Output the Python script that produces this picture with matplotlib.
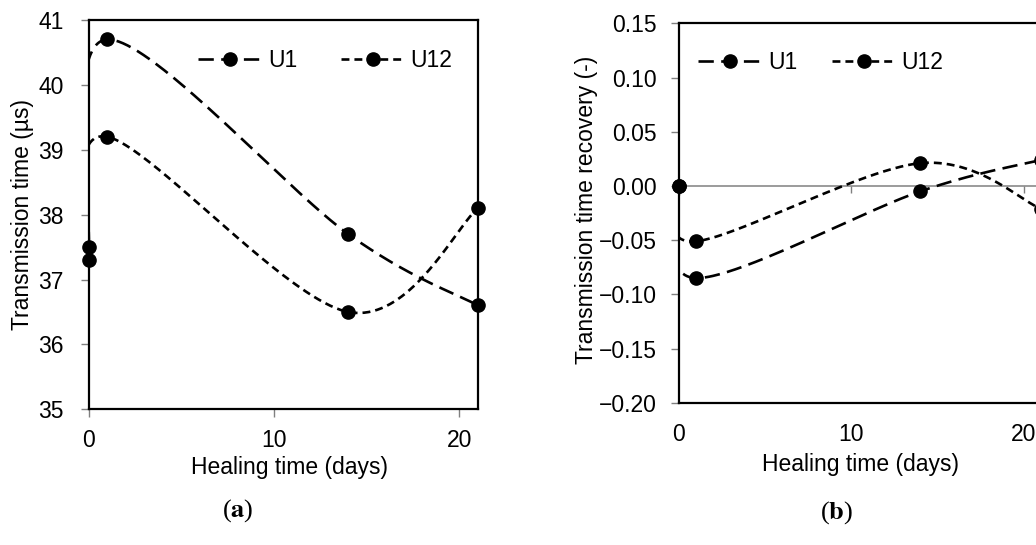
import numpy as np
import matplotlib
matplotlib.use('Agg')
import matplotlib.pyplot as plt
from matplotlib.lines import Line2D
from matplotlib.ticker import FuncFormatter

plt.rcParams['font.family'] = ['Liberation Sans', 'DejaVu Sans']
plt.rcParams['font.size'] = 16.5
plt.rcParams['mathtext.fontset'] = 'stix'

# datos
days = [0, 1, 14, 21]
u1_time = [37.5, 40.7, 37.7, 36.6]
u12_time = [37.3, 39.2, 36.5, 38.1]
u1_recovery = [0.0, -0.085, -0.005, 0.024]
u12_recovery = [0.0, -0.051, 0.021, -0.021]
series_names = ['U1', 'U12']

lw = 1.9
ms = 9.5
dash_styles = [(5.8, 2.8), (3.0, 1.9)]
tick_grey = '#808080'


def smooth_curve(ax, xs, ys, n=80):
    # linea suavizada tipo Excel (bezier Catmull-Rom en espacio de pantalla)
    pts = ax.transData.transform(np.column_stack([xs, ys]))
    ext = np.vstack([pts[0], pts, pts[-1]])
    t = np.linspace(0, 1, n)[:, None]
    out = []
    for i in range(len(pts) - 1):
        p0, p3 = ext[i + 1], ext[i + 2]
        c1 = p0 + (ext[i + 2] - ext[i]) / 6
        c2 = p3 - (ext[i + 3] - ext[i + 1]) / 6
        out.append((1 - t) ** 3 * p0 + 3 * (1 - t) ** 2 * t * c1
                   + 3 * (1 - t) * t ** 2 * c2 + t ** 3 * p3)
    curve = ax.transData.inverted().transform(np.vstack(out))
    return curve[:, 0], curve[:, 1]


def draw_series(ax, xs, ys, dashes):
    cx, cy = smooth_curve(ax, xs, ys)
    ax.plot(cx, cy, color='black', lw=lw, dashes=dashes, zorder=3)
    ax.plot(xs, ys, 'o', color='black', ms=ms, clip_on=False, zorder=4)


def legend_handles():
    return [Line2D([], [], color='black', lw=lw, dashes=d, marker='o', ms=ms)
            for d in dash_styles]


fig = plt.figure(figsize=(10.36, 5.45), dpi=100)

# ---------- (a) ----------
ax1 = fig.add_axes([0.0856, 0.249, 0.3758, 0.7143])
ax1.set_xlim(0, 21)
ax1.set_ylim(35, 41)
ax1.set_xticks([0, 10, 20])
ax1.set_yticks(range(35, 42))
for ys, d in zip([u1_time, u12_time], dash_styles):
    draw_series(ax1, days, ys, d)

for s in ax1.spines.values():
    s.set_linewidth(1.6)
    s.set_color('black')
ax1.tick_params(axis='both', direction='out', length=5.5, width=1,
                color=tick_grey, labelsize=16.5)
ax1.tick_params(axis='x', pad=9)
ax1.tick_params(axis='y', pad=12.5)
ax1.set_xlabel('Healing time (days)')
ax1.set_ylabel('Transmission time (µs)')
ax1.xaxis.set_label_coords(0.517, -0.12)
ax1.yaxis.set_label_coords(-0.14, 0.5)
ax1.legend(legend_handles(), series_names, ncol=2, frameon=False,
           loc='center left', bbox_to_anchor=(0.281, 0.895),
           borderpad=0, borderaxespad=0, handlelength=2.8,
           handletextpad=0.25, columnspacing=1.9, numpoints=1)

# ---------- (b) ----------
ax2 = fig.add_axes([0.6554, 0.2611, 0.3493, 0.696])
ax2.set_xlim(0, 21)
ax2.set_ylim(-0.20, 0.15)
ax2.set_xticks([0, 10, 20])
ax2.set_yticks(np.arange(-0.20, 0.151, 0.05))
ax2.yaxis.set_major_formatter(
    FuncFormatter(lambda v, p: f'{v + 0.0:.2f}'.replace('-', '\u2212')
                  if abs(v) > 1e-9 else '0.00'))

for ys, d in zip([u1_recovery, u12_recovery], dash_styles):
    draw_series(ax2, days, ys, d)

for s in ax2.spines.values():
    s.set_linewidth(1.6)
    s.set_color('black')
ax2.tick_params(axis='y', direction='out', length=5.5, width=1,
                color=tick_grey, labelsize=16.5, pad=10.5)
ax2.tick_params(axis='x', length=0, labelsize=16.5, pad=14.5)

# eje x gris en y = 0 con marcas hacia abajo
zero_frac = (0 - (-0.20)) / 0.35
secax = ax2.secondary_xaxis(zero_frac)
secax.set_xticks([0, 10, 20])
secax.tick_params(axis='x', direction='in', length=5, width=1,
                  color=tick_grey, labeltop=False, labelbottom=False)
for s in secax.spines.values():
    s.set_color(tick_grey)
    s.set_linewidth(1.1)

ax2.set_xlabel('Healing time (days)')
ax2.set_ylabel('Transmission time recovery (-)')
ax2.xaxis.set_label_coords(0.502, -0.133)
ax2.yaxis.set_label_coords(-0.225, 0.508)
ax2.legend(legend_handles(), series_names, ncol=2, frameon=False,
           loc='center left', bbox_to_anchor=(0.0525, 0.898),
           borderpad=0, borderaxespad=0, handlelength=2.8,
           handletextpad=0.25, columnspacing=1.5, numpoints=1)

# pies de figura
fig.text(0.2297, 0.064, r'($\mathbf{a}$)', ha='center', va='center',
         family='Liberation Serif', fontsize=19)
fig.text(0.8076, 0.060, r'($\mathbf{b}$)', ha='center', va='center',
         family='Liberation Serif', fontsize=19)

fig.savefig('out.png', dpi=100)
